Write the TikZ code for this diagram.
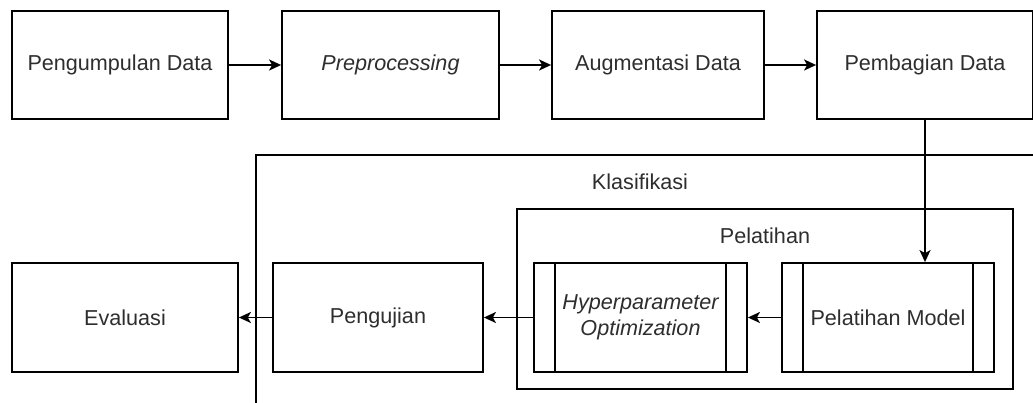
\documentclass[tikz,border=0pt]{standalone}
\usepackage{fontspec}
\setmainfont{Liberation Sans}
\usetikzlibrary{arrows.meta}
\begin{document}
\begin{tikzpicture}[x=1pt,y=-1pt,
  every node/.style={font=\fontsize{21.6}{26}\selectfont, text=black!82},
  box/.style={draw=black, line width=1.8pt, inner sep=0pt, fill=white, align=center},
  procbox/.style={box, path picture={
      \draw[line width=1.8pt] ([xshift=21pt]path picture bounding box.north west) -- ([xshift=21pt]path picture bounding box.south west);
      \draw[line width=1.8pt] ([xshift=-21pt]path picture bounding box.north east) -- ([xshift=-21pt]path picture bounding box.south east);}},
  container/.style={draw=black, line width=1.8pt},
  arr/.style={draw=black, line width=1.8pt, -{Stealth[length=12pt,width=11pt,inset=3pt]}},
  lbl/.style={inner sep=0pt}
]
\useasboundingbox (0,0) rectangle (1033,403);
\clip (0,0) rectangle (1033,403);
\fill[white] (0,0) rectangle (1033,403);

% containers
\draw[container] (256,420) -- (256,155) -- (1060,155);
\node[lbl] (klas) at (640,182) {Klasifikasi};
\draw[container] (517,209) rectangle (1013,389);
\node[lbl] (pel) at (765,236) {Pelatihan};

% top row
\node[box, minimum width=216pt, minimum height=108pt] (A) at (120,65) {Pengumpulan Data};
\node[box, minimum width=217pt, minimum height=108pt] (B) at (390.5,65) {\itshape Preprocessing};
\node[box, minimum width=212pt, minimum height=108pt] (C) at (658,65) {Augmentasi Data};
\node[box, minimum width=216pt, minimum height=108pt] (D) at (925,65) {Pembagian Data};

% bottom row
\node[procbox, minimum width=212pt, minimum height=109pt] (PM) at (888,317.5) {Pelatihan Model};
\node[procbox, minimum width=213pt, minimum height=109pt] (HO) at (640.5,317.5) {\itshape Hyperparameter\\[0pt]\itshape Optimization};
\node[box, minimum width=210pt, minimum height=109pt] (PG) at (378,317.5) {Pengujian};
\node[box, minimum width=226pt, minimum height=109pt] (EV) at (125,317.5) {Evaluasi};

% connectors
\draw[arr] (A) -- (B);
\draw[arr] (B) -- (C);
\draw[arr] (C) -- (D);
\draw[arr] (D.south) -- (D.south |- PM.north);
\draw[arr] (PM) -- (HO);
\draw[arr] (HO) -- (PG);
\draw[arr] (PG) -- (EV);
\end{tikzpicture}
\end{document}
